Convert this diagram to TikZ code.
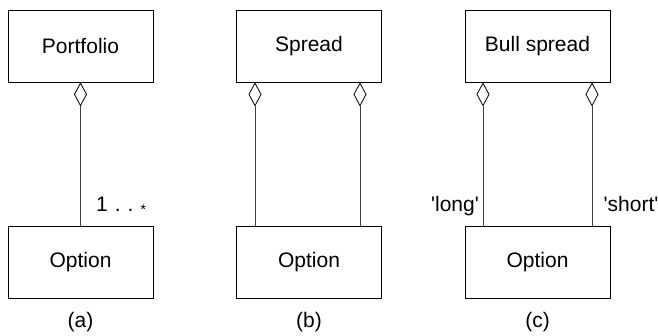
\documentclass[tikz,border=0pt]{standalone}
\usepackage{fontspec}
\setmainfont{Liberation Sans}
\usetikzlibrary{arrows.meta}
\begin{document}
\begin{tikzpicture}[x=1pt,y=-1pt,
  cls/.style={draw=black,line width=0.8pt,minimum width=145pt,minimum height=72pt,inner sep=0pt,font=\fontsize{21}{25}\selectfont},
  agg/.style={draw=black!75,line width=0.8pt,{Diamond[open,length=24pt,width=13pt,line width=0.8pt,color=black]}-},
  lbl/.style={inner sep=0pt,font=\fontsize{21}{25}\selectfont},
  captext/.style={inner sep=0pt,font=\fontsize{21}{25}\selectfont,anchor=base}]
\useasboundingbox (0,0) rectangle (658,336);
% (a)
\node[cls] (pf) at (80.5,46) {Portfolio};
\node[cls] (opa) at (80.5,262) {Option};
\draw[agg] (pf.south) -- (opa.north);
\node[lbl,anchor=base west] (mult) at (96,212) {1\,\,.\,\,.\,\,\raisebox{-0.2ex}{\fontsize{14}{14}\selectfont *}};
\node[captext] (capa) at (80.5,327) {(a)};
% (b)
\node[cls] (sp) at (309,46) {Spread};
\node[cls] (opb) at (309,262) {Option};
\coordinate (bl) at (255,0);
\coordinate (br) at (360,0);
\draw[agg] (sp.south -| bl) -- (opb.north -| bl);
\draw[agg] (sp.south -| br) -- (opb.north -| br);
\node[captext] (capb) at (309,327) {(b)};
% (c)
\node[cls] (bs) at (537.5,46) {Bull spread};
\node[cls] (opc) at (537.5,262) {Option};
\coordinate (cl) at (483,0);
\coordinate (cr) at (592,0);
\draw[agg] (bs.south -| cl) -- (opc.north -| cl);
\draw[agg] (bs.south -| cr) -- (opc.north -| cr);
\node[lbl,anchor=base east] (long) at (479,212) {\textquotesingle long\textquotesingle};
\node[lbl,anchor=base west] (short) at (603.5,212) {\textquotesingle short\textquotesingle};
\node[captext] (capc) at (537.5,327) {(c)};
\end{tikzpicture}
\end{document}
